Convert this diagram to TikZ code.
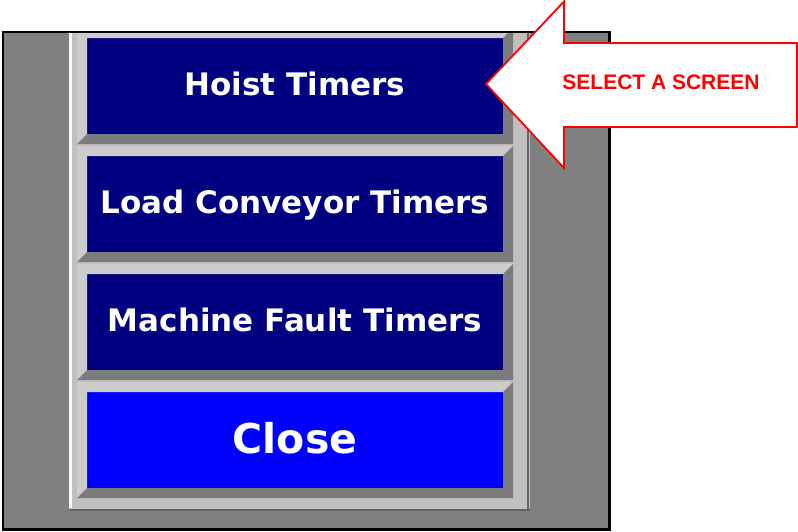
\documentclass[tikz,border=0pt]{standalone}
\usepackage{fontspec}
\setmainfont{DejaVu Sans}
\newfontfamily\calloutfont{Liberation Sans}
\usepackage{tikz}
\usetikzlibrary{positioning,calc}
\definecolor{panelgray}{RGB}{128,128,128}
\definecolor{framegray}{RGB}{192,192,192}
\definecolor{framedark}{RGB}{100,100,100}
\definecolor{bevellight}{RGB}{204,204,204}
\definecolor{beveldark}{RGB}{124,124,124}
\definecolor{btnnavy}{RGB}{0,0,128}
\definecolor{btnblue}{RGB}{0,0,255}
\definecolor{calloutred}{RGB}{255,0,0}
\tikzset{
  hmi button/.style={
    rectangle,
    fill=btnnavy,
    text=white,
    minimum width=416pt,
    minimum height=96pt,
    inner sep=0pt,
    outer sep=0pt,
    text height=22.6pt,
    text depth=4pt,
    font=\fontsize{31}{31}\selectfont\bfseries
  },
  hmi close/.style={
    hmi button,
    fill=btnblue,
    text height=30pt,
    font=\fontsize{41}{41}\selectfont\bfseries
  },
  callout text/.style={
    text=calloutred,
    inner sep=0pt,
    text height=15pt,
    text depth=0pt,
    font=\calloutfont\fontsize{21}{21}\selectfont\bfseries
  }
}

\begin{document}
\begin{tikzpicture}[x=1pt,y=-1pt]
  \useasboundingbox (0,0) rectangle (798,531);

  % Panel
  \fill[panelgray] (3,32) rectangle (609.5,529.5);
  \begin{scope}
    \clip (3,32) rectangle (609.5,529.5);
    % Button frame
    \fill[framegray] (69,20) rectangle (530,511);
    \draw[white!94!gray, line width=3pt] (70.5,20) -- (70.5,508);
    \draw[framedark, line width=2.5pt] (528,20) -- (528,511) (69,510) -- (530,510);

    % Buttons
    \node[hmi button] (hoist) at (295,86) {Hoist Timers};
    \node[hmi button, below=22pt of hoist] (conveyor) {Load Conveyor Timers};
    \node[hmi button, below=22pt of conveyor] (fault) {Machine Fault Timers};
    \node[hmi close, below=22pt of fault] (close) {Close};

    % Bevels
    \foreach \b in {hoist,conveyor,fault,close}{
      \fill[bevellight] ($(\b.north west)+(-10,-10)$) -- ($(\b.north east)+(10,-10)$)
        -- (\b.north east) -- (\b.north west) -- (\b.south west)
        -- ($(\b.south west)+(-10,10)$) -- cycle;
      \fill[beveldark] ($(\b.south west)+(-10,10)$) -- ($(\b.south east)+(10,10)$)
        -- ($(\b.north east)+(10,-10)$) -- (\b.north east) -- (\b.south east)
        -- (\b.south west) -- cycle;
    }
  \end{scope}
  \draw[black, line width=2.5pt] (3,32) rectangle (609.5,529.5);

  % Callout
  \draw[calloutred, fill=white, line width=1.8pt, line join=miter]
    (486,84) -- (564,1.5) -- (564,43) -- (797,43) -- (797,127)
    -- (564,127) -- (564,168) -- cycle;
  \node[callout text] (select) at (661,82) {SELECT A SCREEN};
\end{tikzpicture}
\end{document}
